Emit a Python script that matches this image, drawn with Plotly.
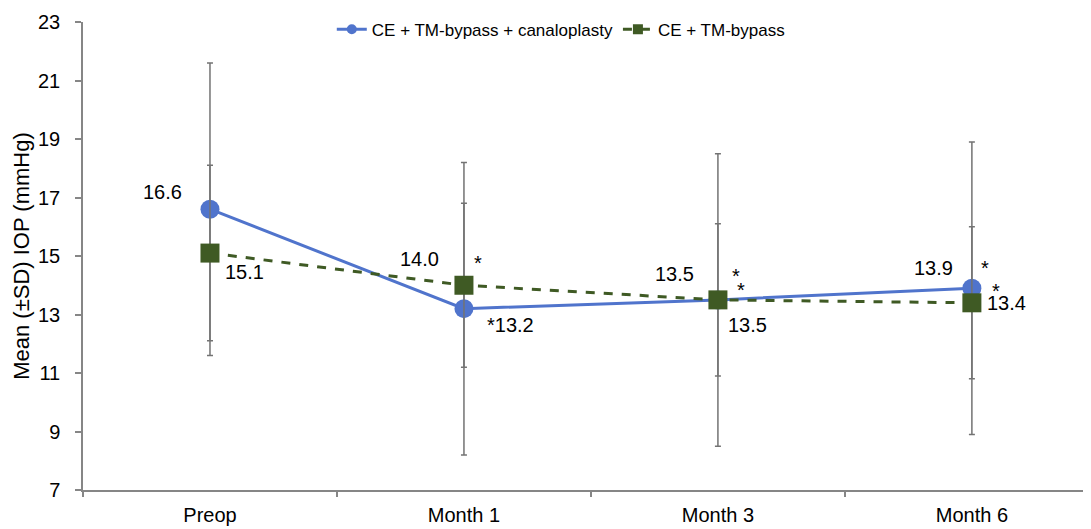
import plotly.graph_objects as go

categories = ["Preop", "Month 1", "Month 3", "Month 6"]
canal_mean = [16.6, 13.2, 13.5, 13.9]
canal_sd = [5.0, 5.0, 5.0, 5.0]
bypass_mean = [15.1, 14.0, 13.5, 13.4]
bypass_sd = [3.0, 2.8, 2.6, 2.6]
y_ticks = [7, 9, 11, 13, 15, 17, 19, 21, 23]

# labels: (category index, y value, text, xshift, yshift)
labels = [
    (0, 16.6, "16.6", -47, 17),
    (0, 15.1, "15.1", 35, -19),
    (1, 14.0, "14.0", -44, 26),
    (1, 14.0, "*", 14, 22),
    (1, 13.2, "*13.2", 47, -16),
    (2, 13.5, "13.5", -43, 26),
    (2, 13.5, "*", 18, 24),
    (2, 13.5, "*", 23, 10),
    (2, 13.5, "13.5", 30, -25),
    (3, 13.9, "13.9", -38, 20),
    (3, 13.9, "*", 13, 20),
    (3, 13.4, "*", 24, 12),
    (3, 13.4, "13.4", 35, 0),
]

FONT = "Arial, Liberation Sans, sans-serif"
BLUE = "#5074cc"
GREEN = "#3f5a24"
GRAY = "#737373"
AXIS = "#868686"

fig = go.Figure()
fig.add_trace(go.Scatter(
    x=categories, y=canal_mean, name="CE + TM-bypass + canaloplasty",
    mode="lines+markers", showlegend=False,
    line=dict(color=BLUE, width=3),
    marker=dict(symbol="circle", size=19, color=BLUE),
    error_y=dict(type="data", array=canal_sd, color=GRAY, thickness=1.5, width=3),
))
fig.add_trace(go.Scatter(
    x=categories, y=bypass_mean, name="CE + TM-bypass",
    mode="lines+markers", showlegend=False,
    line=dict(color=GREEN, width=3, dash="dash"),
    marker=dict(symbol="square", size=19, color=GREEN),
    error_y=dict(type="data", array=bypass_sd, color=GRAY, thickness=1.5, width=3),
))
# legend entries with smaller symbols
fig.add_trace(go.Scatter(
    x=[None], y=[None], name="CE + TM-bypass + canaloplasty", mode="lines+markers",
    line=dict(color=BLUE, width=3), marker=dict(symbol="circle", size=10, color=BLUE),
))
fig.add_trace(go.Scatter(
    x=[None], y=[None], name="CE + TM-bypass", mode="lines+markers",
    line=dict(color=GREEN, width=3, dash="dash"), marker=dict(symbol="square", size=10, color=GREEN),
))

for ci, yv, txt, xs, ys in labels:
    fig.add_annotation(x=categories[ci], y=yv, text=txt, showarrow=False,
                       xshift=xs, yshift=ys, font=dict(size=20, color="#000000", family=FONT))

# the page body has an 8px default margin, so the figure is sized to fit the window
fig.update_layout(
    width=1083, height=521,
    margin=dict(l=75, r=0, t=14, b=39),
    paper_bgcolor="white", plot_bgcolor="white",
    font=dict(family=FONT, color="#000000"),
    showlegend=True,
    legend=dict(orientation="h", x=0.474, xanchor="center", y=1.022, yanchor="top",
                font=dict(size=17, family=FONT), bgcolor="rgba(0,0,0,0)",
                itemwidth=30, traceorder="normal"),
)
fig.update_xaxes(
    type="category", range=[-0.5, 3.469], showgrid=False, zeroline=False,
    showline=True, linecolor=AXIS, linewidth=1.5, automargin=False,
    ticks="outside", tickson="boundaries", ticklen=5, tickcolor=AXIS, tickwidth=1.5,
    tickfont=dict(size=20, family=FONT), ticklabelstandoff=6, fixedrange=True,
)
fig.update_yaxes(
    range=[7, 23], tickvals=y_ticks, showgrid=False, zeroline=False,
    showline=True, linecolor=AXIS, linewidth=1.5, automargin=False,
    ticks="outside", ticklen=6, tickcolor=AXIS, tickwidth=1.5,
    tickfont=dict(size=20, family=FONT), ticklabelstandoff=11,
    title=dict(text="Mean (±SD) IOP (mmHg)", font=dict(size=22, family=FONT), standoff=2),
)

fig.write_html("out.html")
